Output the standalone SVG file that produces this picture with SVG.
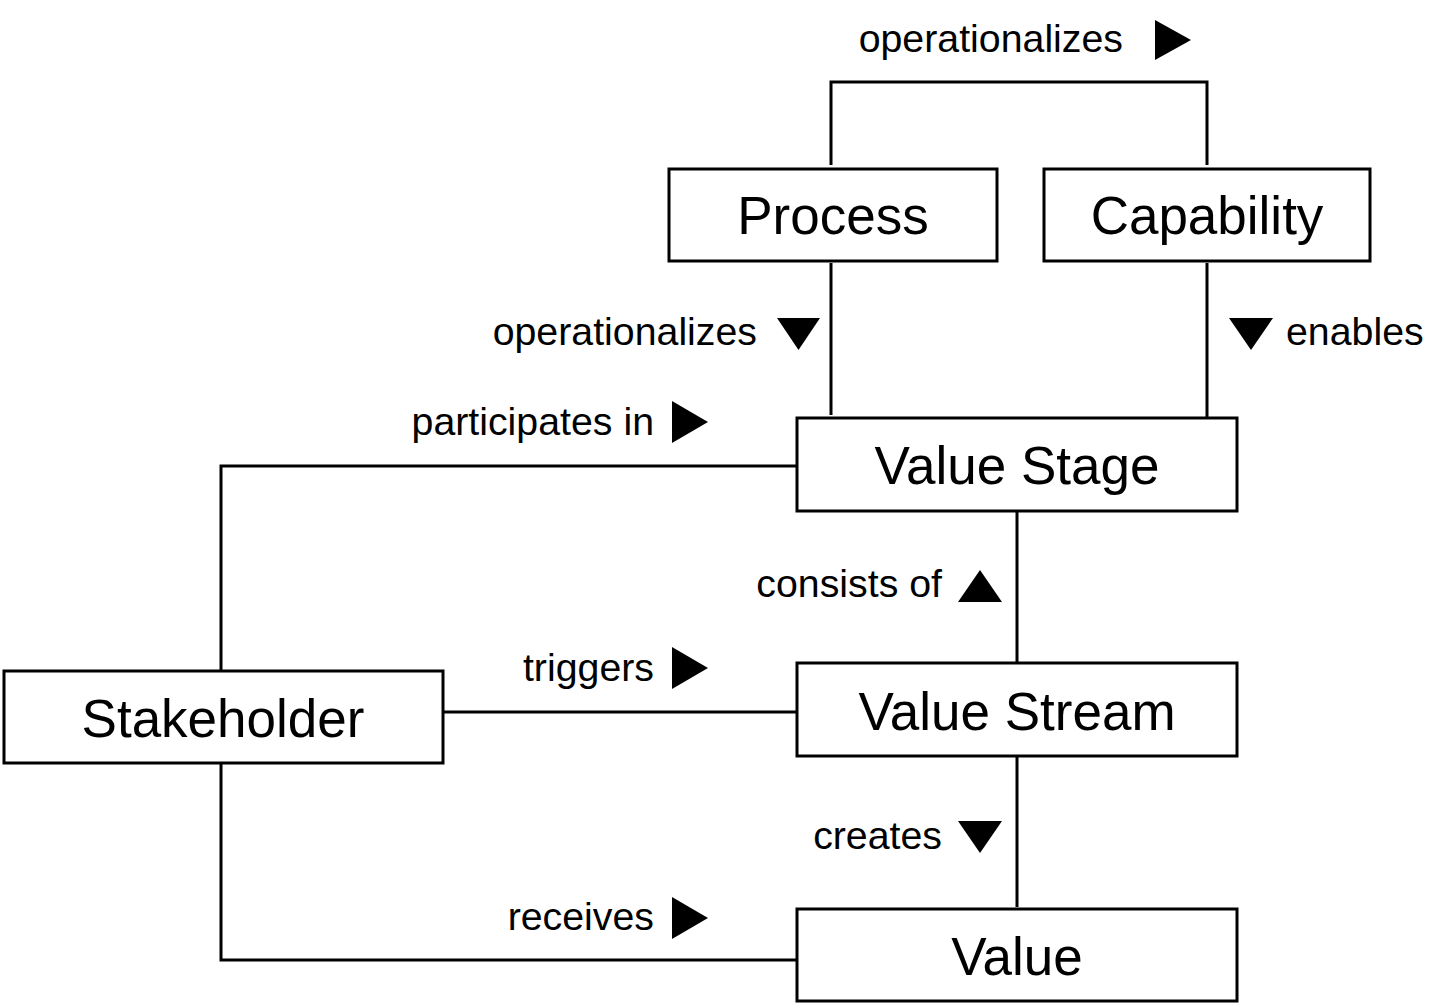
<svg xmlns="http://www.w3.org/2000/svg" width="1450" height="1005" viewBox="0 0 1450 1005">
<style>
.box{fill:#fff;stroke:#000;stroke-width:3}
.node{font-family:"Liberation Sans",Arial,sans-serif;font-size:53px;text-anchor:middle;fill:#000}
.lbl{font-family:"Liberation Sans",Arial,sans-serif;font-size:39.3px;fill:#000}
.end{text-anchor:end}
.ln{fill:none;stroke:#000;stroke-width:3}
.tri{fill:#000}
</style>
<rect width="1450" height="1005" fill="#fff"/>
<g id="connectors">
<polyline class="ln" points="831,165 831,82 1207,82 1207,165"/>
<line class="ln" x1="831" y1="263" x2="831" y2="415"/>
<line class="ln" x1="1207" y1="263" x2="1207" y2="417"/>
<polyline class="ln" points="221,671 221,466 797,466"/>
<line class="ln" x1="443" y1="712" x2="797" y2="712"/>
<polyline class="ln" points="221,763 221,960 797,960"/>
<line class="ln" x1="1017" y1="511" x2="1017" y2="663"/>
<line class="ln" x1="1017" y1="756" x2="1017" y2="907"/>
<text class="lbl end" x="1123" y="52">operationalizes</text>
<polygon class="tri" points="1155,20 1191,40 1155,60"/>
<text class="lbl end" x="757" y="345">operationalizes</text>
<polygon class="tri" points="777,318 820,318 798.5,350"/>
<text class="lbl" x="1286" y="345">enables</text>
<polygon class="tri" points="1229,318 1273,318 1251,350"/>
<text class="lbl end" x="654" y="435">participates in</text>
<polygon class="tri" points="672,401 708,422 672,443"/>
<text class="lbl end" x="942" y="597">consists of</text>
<polygon class="tri" points="958,602 1002,602 980,570"/>
<text class="lbl end" x="654" y="681">triggers</text>
<polygon class="tri" points="672,647 708,668 672,689"/>
<text class="lbl end" x="942" y="849">creates</text>
<polygon class="tri" points="958,821 1002,821 980,853"/>
<text class="lbl end" x="654" y="930">receives</text>
<polygon class="tri" points="672,897 708,918 672,939"/>
</g>
<g id="process"><rect class="box" x="669" y="169" width="328" height="92"/><text class="node" x="833" y="234">Process</text></g>
<g id="capability"><rect class="box" x="1044" y="169" width="326" height="92"/><text class="node" x="1207" y="234">Capability</text></g>
<g id="value-stage"><rect class="box" x="797" y="418" width="440" height="93"/><text class="node" x="1017" y="484">Value Stage</text></g>
<g id="value-stream"><rect class="box" x="797" y="663" width="440" height="93"/><text class="node" x="1017" y="730">Value Stream</text></g>
<g id="value"><rect class="box" x="797" y="909" width="440" height="92"/><text class="node" x="1017" y="975">Value</text></g>
<g id="stakeholder"><rect class="box" x="4" y="671" width="439" height="92"/><text class="node" x="223" y="737">Stakeholder</text></g>
</svg>
